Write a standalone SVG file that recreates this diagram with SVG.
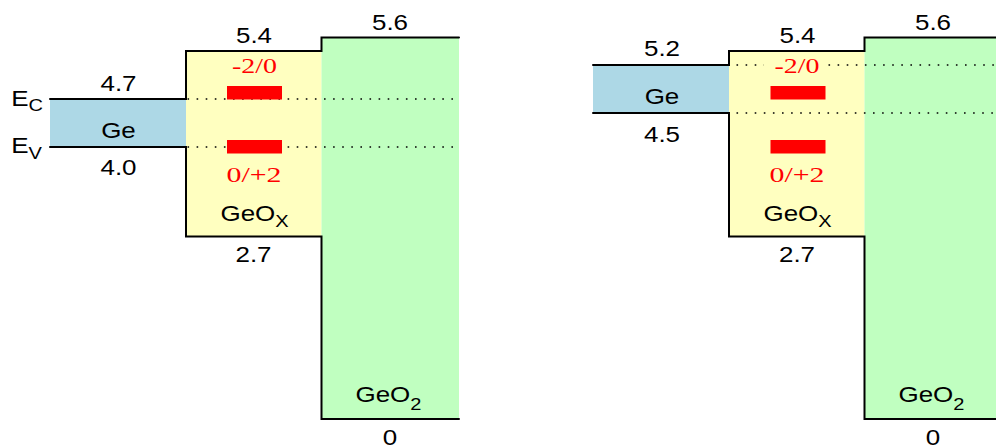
<svg xmlns="http://www.w3.org/2000/svg" width="996" height="448" viewBox="0 0 996 448">
<style>
.lbl{font-family:"Liberation Sans",Arial,sans-serif;font-size:22px;fill:#000}
.mid{text-anchor:middle}
.sub{font-size:17px}
.red{font-family:"Liberation Serif","Times New Roman",serif;font-size:21px;fill:#FF0000;text-anchor:middle}
.edge{fill:none;stroke:#000;stroke-width:2;stroke-linecap:round;stroke-linejoin:miter}
.dot{fill:none;stroke:#000;stroke-width:1.6;stroke-dasharray:1.6 7.5}
.ge{fill:#ADD8E6}
.gox{fill:#FFFFC0}
.go2{fill:#C0FFC0}
.lvl{fill:#FF0000}
</style>
<rect width="996" height="448" fill="#FFFFFF"/>

<!-- Left panel -->
<g id="left-Ge">
<rect class="ge" x="50" y="99" width="136" height="48"/>
<text class="lbl mid" transform="translate(118.5,138) scale(1.18,1)">Ge</text>
<text class="lbl mid" transform="translate(118.5,91) scale(1.18,1)">4.7</text>
<text class="lbl mid" transform="translate(118.5,175) scale(1.18,1)">4.0</text>
<text class="lbl" transform="translate(11.3,106) scale(1.18,1)">E<tspan class="sub" dy="4.7">C</tspan></text>
<text class="lbl" transform="translate(11.3,153) scale(1.18,1)">E<tspan class="sub" dy="6">V</tspan></text>
</g>
<g id="left-GeOx">
<rect class="gox" x="186" y="51" width="135.5" height="185.5"/>
<text class="lbl mid" transform="translate(254,42.5) scale(1.18,1)">5.4</text>
<text class="lbl mid" transform="translate(253.5,261.5) scale(1.18,1)">2.7</text>
<text class="lbl" transform="translate(220.5,221) scale(1.18,1)">GeO<tspan class="sub" dy="5.7">X</tspan></text>
</g>
<g id="left-GeO2">
<rect class="go2" x="321.5" y="37.5" width="137.5" height="381.5"/>
<text class="lbl mid" transform="translate(390,29.5) scale(1.18,1)">5.6</text>
<text class="lbl mid" transform="translate(390,445) scale(1.18,1)">0</text>
<text class="lbl" transform="translate(355.5,401.5) scale(1.18,1)">GeO<tspan class="sub" font-size="19" dy="8.5">2</tspan></text>
</g>

<!-- Right panel -->
<g id="right-Ge">
<rect class="ge" x="593" y="65" width="136" height="48"/>
<text class="lbl mid" transform="translate(662,104) scale(1.18,1)">Ge</text>
<text class="lbl mid" transform="translate(662,56) scale(1.18,1)">5.2</text>
<text class="lbl mid" transform="translate(662,141.5) scale(1.18,1)">4.5</text>
</g>
<g id="right-GeOx">
<rect class="gox" x="729" y="51" width="135.5" height="185.5"/>
<text class="lbl mid" transform="translate(797.5,42.5) scale(1.18,1)">5.4</text>
<text class="lbl mid" transform="translate(797,261.5) scale(1.18,1)">2.7</text>
<text class="lbl" transform="translate(763.5,221) scale(1.18,1)">GeO<tspan class="sub" dy="5.7">X</tspan></text>
</g>
<g id="right-GeO2">
<rect class="go2" x="864.5" y="37.5" width="137.5" height="381.5"/>
<text class="lbl mid" transform="translate(933,29.5) scale(1.18,1)">5.6</text>
<text class="lbl mid" transform="translate(933,445) scale(1.18,1)">0</text>
<text class="lbl" transform="translate(898.5,401.5) scale(1.18,1)">GeO<tspan class="sub" font-size="19" dy="8.5">2</tspan></text>
</g>

<!-- Band edges and level lines -->
<g id="connectors">
<path class="edge" d="M50,99 H186 V51 H321.5 V37.5 H459"/>
<path class="edge" d="M50,147 H186 V236.5 H321.5 V419 H459"/>
<path class="edge" d="M593,65 H729 V51 H864.5 V37.5 H1002"/>
<path class="edge" d="M593,113 H729 V236.5 H864.5 V419 H1002"/>
<path class="dot" d="M187.5,99 H453"/>
<path class="dot" d="M187.5,147 H453"/>
<path class="dot" d="M736.5,65 H764"/>
<path class="dot" d="M828.5,65 H996"/>
<path class="dot" d="M736.5,113 H996"/>
</g>

<!-- Defect levels -->
<g id="left-level-minus">
<rect class="lvl" x="227" y="86" width="55" height="13.5"/>
<text class="red" x="254.5" y="73" textLength="45" lengthAdjust="spacingAndGlyphs">-2/0</text>
</g>
<g id="left-level-plus">
<rect class="lvl" x="227" y="140" width="55" height="13.5"/>
<text class="red" x="254" y="181.5" textLength="55" lengthAdjust="spacingAndGlyphs">0/+2</text>
</g>
<g id="right-level-minus">
<rect class="lvl" x="770.5" y="86" width="55" height="13.5"/>
<text class="red" x="797" y="73" textLength="45" lengthAdjust="spacingAndGlyphs">-2/0</text>
</g>
<g id="right-level-plus">
<rect class="lvl" x="770.5" y="140" width="55" height="13.5"/>
<text class="red" x="797" y="181.5" textLength="55" lengthAdjust="spacingAndGlyphs">0/+2</text>
</g>
</svg>
